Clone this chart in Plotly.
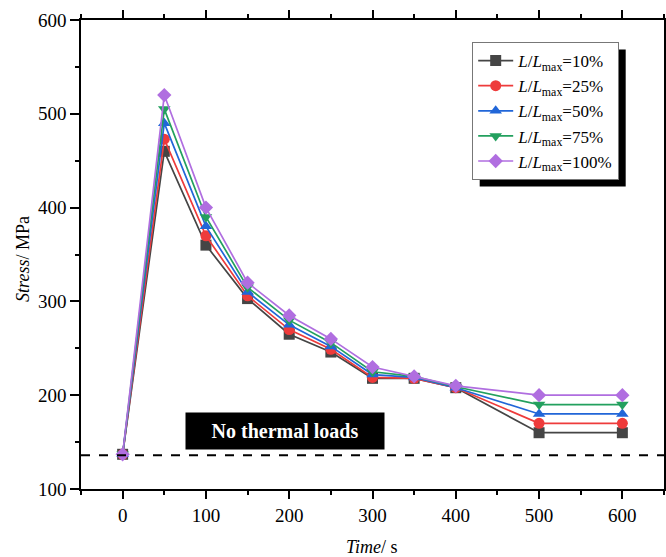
import plotly.graph_objects as go

time_s = [0, 50, 100, 150, 200, 250, 300, 350, 400, 500, 600]
s10 = [137, 460, 360, 303, 265, 246, 218, 218, 208, 160, 160]
s25 = [137, 473, 370, 306, 270, 249, 219, 218, 208, 170, 170]
s50 = [137, 490, 380, 310, 275, 252, 222, 219, 208, 180, 180]
s75 = [137, 505, 390, 315, 280, 256, 225, 220, 209, 190, 190]
s100 = [137, 520, 400, 320, 285, 260, 230, 220, 210, 200, 200]
names = ["10%", "25%", "50%", "75%", "100%"]
series = [s10, s25, s50, s75, s100]
colors = ["#454545", "#ee3b3b", "#2166d8", "#23a05e", "#b06ee0"]
symbols = ["square", "circle", "triangle-up", "triangle-down", "diamond"]
baseline = 136

fig = go.Figure()
for nm, ys, c, sym in zip(names, series, colors, symbols):
    fig.add_trace(go.Scatter(
        x=time_s, y=ys, mode="lines+markers",
        name="<i>L</i>/<i>L</i><sub>max</sub>=" + nm,
        line=dict(color=c, width=1.7),
        marker=dict(symbol=sym, size=11, color=c),
    ))

fig.add_shape(type="line", xref="paper", yref="y", x0=0, x1=1, y0=baseline, y1=baseline,
              line=dict(color="black", width=2, dash="dash"))

fig.add_annotation(x=195, y=162, xref="x", yref="y", text="<b>No thermal loads</b>",
                   showarrow=False, bgcolor="black", font=dict(color="white", size=20, family="Liberation Serif"),
                   borderpad=5, width=188, height=26)

fig.add_annotation(x=0.499, y=-0.124, xref="paper", yref="paper", text="<i>Time</i>/ s",
                   showarrow=False, font=dict(size=18), xanchor="center", yanchor="middle")
fig.add_annotation(x=-0.1, y=0.49, xref="paper", yref="paper", text="<i>Stress</i>/ MPa",
                   showarrow=False, font=dict(size=18), textangle=-90, xanchor="center", yanchor="middle")

fig.update_layout(
    width=666, height=557,
    margin=dict(l=81, r=2, t=20, b=68),
    paper_bgcolor="white", plot_bgcolor="white",
    font=dict(family="Liberation Serif", size=19, color="black"),
    showlegend=True,
    legend=dict(x=0.671, y=0.953, xanchor="left", yanchor="top",
                bgcolor="white", bordercolor="#777777", borderwidth=1,
                font=dict(size=17, family="Liberation Serif"), tracegroupgap=0,
                itemwidth=35),
)
fig.update_xaxes(range=[-50, 650], tickvals=[0, 100, 200, 300, 400, 500, 600],
                 ticks="outside", ticklen=8, tickwidth=1.5, tickcolor="black",
                 showline=True, linecolor="black", linewidth=1.5, mirror="ticks",
                 showgrid=False, zeroline=False, automargin=False,
                 minor=dict(tickvals=[-50, 50, 150, 250, 350, 450, 550, 650], ticks="outside", ticklen=4, tickwidth=1.5, tickcolor="black"))
fig.update_yaxes(range=[100, 600], tickvals=[100, 200, 300, 400, 500, 600],
                 ticks="outside", ticklen=9, tickwidth=1.5, tickcolor="black",
                 showline=True, linecolor="black", linewidth=1.5, mirror="ticks",
                 showgrid=False, zeroline=False, automargin=False,
                 minor=dict(tickvals=[150, 250, 350, 450, 550], ticks="outside", ticklen=4, tickwidth=1.5, tickcolor="black"))

# legend drop shadow, placed from the rendered legend box
post = """
document.body.style.margin='0px';document.body.style.overflow='hidden';
var gd=document.getElementsByClassName('plotly-graph-div')[0];
var bg=gd.querySelector('.legend .bg');
if(bg){
  var r=bg.getBoundingClientRect();
  var fs=gd._fullLayout._size;
  var x0=(r.left+7-fs.l)/fs.w, x1=(r.right+7-fs.l)/fs.w;
  var y1=1-(r.top+7-fs.t)/fs.h, y0=1-(r.bottom+7-fs.t)/fs.h;
  Plotly.relayout(gd,{shapes:gd.layout.shapes.concat([{type:'rect',xref:'paper',yref:'paper',x0:x0,x1:x1,y0:y0,y1:y1,fillcolor:'black',line:{width:0},layer:'above'}])});
}
"""
fig.write_html("out.html", post_script=post, config={"displayModeBar": False})
